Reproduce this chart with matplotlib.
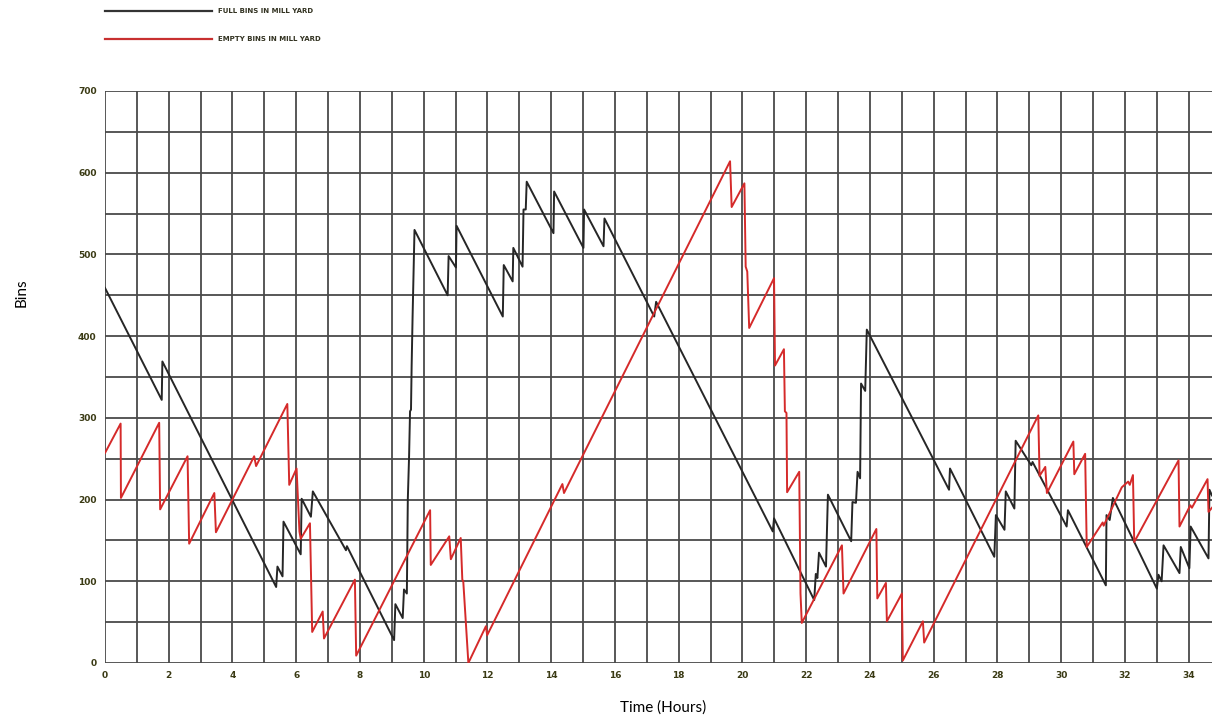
import matplotlib
matplotlib.use("Agg")
import matplotlib.pyplot as plt

# Full bins in mill yard (hours, bins)
full_t = [0, 1.78, 1.8, 5.37, 5.41, 5.57, 5.6, 6.14, 6.17, 6.46, 6.52, 7.56, 7.59,
          9.07, 9.11, 9.34, 9.38, 9.47, 9.5, 9.54, 9.57, 9.6, 9.62, 9.65, 9.71,
          10.75, 10.78, 11.01, 11.03, 12.48, 12.51, 12.79, 12.81, 13.1, 13.13, 13.2, 13.23,
          14.07, 14.09, 15.01, 15.03, 15.64, 15.67, 17.23, 17.29, 20.95, 20.99,
          22.25, 22.3, 22.35, 22.4, 22.62, 22.68, 23.41, 23.45, 23.56, 23.61, 23.69, 23.72,
          23.85, 23.9, 26.48, 26.51, 27.9, 27.95, 28.22, 28.26, 28.53, 28.57, 29.06, 29.1,
          30.17, 30.21, 31.4, 31.42, 31.52, 31.62, 33.0, 33.05, 33.15, 33.21, 33.71, 33.75,
          34.02, 34.06, 34.62, 34.65, 34.73]
full_v = [459, 322, 369, 93, 118, 106, 173, 133, 201, 179, 210, 138, 143,
          28, 72, 55, 90, 85, 200, 253, 308, 310, 363, 424, 530,
          450, 498, 484, 535, 424, 487, 467, 508, 485, 555, 555, 589,
          526, 577, 508, 555, 510, 544, 424, 442, 161, 177,
          77, 109, 104, 135, 118, 206, 149, 197, 196, 234, 226, 342,
          333, 408, 212, 238, 130, 181, 163, 210, 189, 272, 242, 246,
          167, 187, 95, 181, 175, 202, 91, 108, 100, 144, 110, 142,
          116, 167, 128, 212, 205]

# Empty bins in mill yard (hours, bins)
empty_t = [0, 0.49, 0.5, 1.7, 1.73, 2.59, 2.64, 3.43, 3.48, 4.68, 4.74, 5.72, 5.78,
           6.01, 6.1, 6.14, 6.43, 6.5, 6.83, 6.87, 7.84, 7.88, 10.2, 10.22, 10.8, 10.85,
           11.16, 11.21, 11.24, 11.4, 11.95, 11.99, 14.35, 14.4, 19.61, 19.66, 20.06, 20.1,
           20.15, 20.21, 20.99, 21.02, 21.3, 21.33, 21.38, 21.4, 21.78, 21.82, 21.86,
           23.12, 23.17, 24.2, 24.23, 24.5, 24.53, 25.0, 25.03, 25.66, 25.7, 29.28, 29.32,
           29.5, 29.55, 30.38, 30.41, 30.75, 30.8, 31.3, 31.33, 31.9, 32.1, 32.15, 32.25,
           32.29, 33.68, 33.71, 34.05, 34.1, 34.59, 34.62, 34.73]
empty_v = [257, 293, 202, 294, 188, 253, 146, 208, 160, 253, 241, 317, 218,
           238, 161, 152, 171, 38, 63, 30, 102, 9, 187, 120, 155, 127,
           153, 102, 100, 0, 45, 34, 219, 208, 614, 558, 587, 485,
           479, 410, 471, 364, 384, 308, 306, 209, 234, 85, 49,
           144, 85, 164, 79, 98, 51, 85, 3, 51, 25, 303, 229,
           240, 208, 271, 231, 256, 142, 172, 168, 215, 222, 218, 230,
           148, 248, 167, 193, 190, 225, 185, 190]

x_ticks = list(range(0, 35, 2))
y_ticks = list(range(0, 701, 100))

fig = plt.figure(figsize=(12.12, 7.22), dpi=100)
ax = fig.add_axes([105 / 1212, 1 - 663 / 722, 1 - 105 / 1212, (663 - 91) / 722])

grid_kw = dict(color="#4a4a4a", linewidth=1.3, zorder=1)
for h in range(0, 35):
    ax.axvline(h, **grid_kw)
for b in range(0, 701, 50):
    ax.axhline(b, **grid_kw)

ax.plot(full_t, full_v, color="#262626", linewidth=1.4, zorder=3)
ax.plot(empty_t, empty_v, color="#d52a2a", linewidth=1.4, zorder=3)

ax.set_xlim(0, 34.73)
ax.set_ylim(0, 700)
ax.set_xticks(x_ticks)
ax.set_yticks(y_ticks)
ax.tick_params(length=0, labelsize=6.5, labelcolor="#3a3a14", pad=6)
for lbl in ax.get_xticklabels() + ax.get_yticklabels():
    lbl.set_fontweight("bold")
for s in ax.spines.values():
    s.set_visible(False)

# legend drawn above the plot, top-left
fig.add_artist(plt.Line2D([105 / 1212, 212 / 1212], [1 - 11 / 722] * 2,
                          color="#333333", linewidth=1.6))
fig.add_artist(plt.Line2D([105 / 1212, 212 / 1212], [1 - 39 / 722] * 2,
                          color="#c83030", linewidth=1.6))
fig.text(218 / 1212, 1 - 11 / 722, "FULL BINS IN MILL YARD", fontsize=5.0,
         fontweight="bold", color="#333322", va="center")
fig.text(218 / 1212, 1 - 39 / 722, "EMPTY BINS IN MILL YARD", fontsize=5.0,
         fontweight="bold", color="#333322", va="center")

fig.text(22 / 1212, 1 - 293 / 722, "Bins", rotation=90, fontsize=11,
         family="Lato", ha="center", va="center")
fig.text(663 / 1212, 1 - 708 / 722, "Time (Hours)", fontsize=11,
         family="Lato", ha="center", va="center")

fig.savefig("out.png", dpi=100)
